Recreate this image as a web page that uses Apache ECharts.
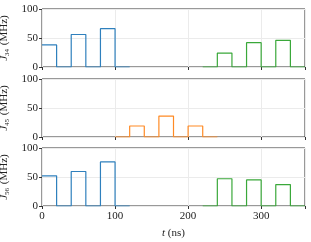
<!DOCTYPE html>
<html><head><meta charset="utf-8">
<script src="https://cdn.jsdelivr.net/npm/echarts@6/dist/echarts.min.js"></script>
<style>html,body{margin:0;padding:0;background:#fff}#c{width:311px;height:242px}</style>
</head><body><div id="c"></div>
<script>
// segment start times (ns), each segment 20 ns wide
const blueTimes = [0, 20, 40, 60, 80, 100, 120];
const greenTimes = [220, 240, 260, 280, 300, 320, 340, 360];
const orangeTimes = [100, 120, 140, 160, 180, 200, 220, 240];

const J34_blue = [38, 0, 56, 0, 66, 0];
const J34_green = [0, 24, 0, 42, 0, 46, 0];
const J45_orange = [0, 19, 0, 36, 0, 19, 0];
const J56_blue = [52, 0, 59.5, 0, 76, 0];
const J56_green = [0, 47, 0, 45, 0, 37, 0];

const xTicks = [0, 100, 200, 300];
const yTicks = [0, 50, 100];
const yNames = ['34', '45', '56'];

function stepData(times, vals) {
  const d = vals.map((v, i) => [times[i], v]);
  d.push([times[times.length - 1], vals[vals.length - 1]]);
  return d;
}

const FONT = 'Liberation Serif';
const tops = [9, 79, 148];
const grids = tops.map(t => ({left: 42, width: 263, top: t, height: 58, show: true, borderColor: '#333', borderWidth: 1, containLabel: false, outerBoundsMode: 'none'}));

const xAxes = tops.map((t, i) => ({
  type: 'value', gridIndex: i, min: 0, max: 360, interval: 100,
  axisLine: {show: false},
  axisTick: {show: true, length: 3, lineStyle: {color: '#333'}},
  axisLabel: {show: i === 2, fontFamily: FONT, fontSize: 11, color: '#222', margin: 5,
    formatter: v => xTicks.includes(v) ? String(v) : ''},
  splitLine: {show: true, lineStyle: {color: '#ebebeb', width: 1}},
  name: i === 2 ? '{i|t} (ns)' : '',
  nameLocation: 'middle', nameGap: 22,
  nameTextStyle: {fontFamily: FONT, fontSize: 11, color: '#222', rich: {i: {fontStyle: 'italic', fontFamily: FONT, fontSize: 11}}}
}));

const yAxes = tops.map((t, i) => ({
  type: 'value', gridIndex: i, min: 0, max: 100, interval: 50,
  axisLine: {show: false},
  axisTick: {show: true, length: 3, lineStyle: {color: '#333'}},
  axisLabel: {fontFamily: FONT, fontSize: 11, color: '#222', margin: 4,
    formatter: v => yTicks.includes(v) ? String(v) : ''},
  splitLine: {show: true, lineStyle: {color: '#ebebeb', width: 1}},
  name: '{i|J}{s|' + yNames[i] + '} (MHz)',
  nameLocation: 'middle', nameGap: 26, nameRotate: 90,
  nameTextStyle: {fontFamily: FONT, fontSize: 11, color: '#222',
    rich: {i: {fontStyle: 'italic', fontFamily: FONT, fontSize: 11},
           s: {fontFamily: FONT, fontSize: 7, padding: [5, 1, 0, 0]}}}
}));

function ser(idx, times, vals, color) {
  return {type: 'line', xAxisIndex: idx, yAxisIndex: idx, step: 'end', symbol: 'none',
    data: stepData(times, vals), lineStyle: {color: color, width: 1.2}, animation: false, z: 3};
}

const chart = echarts.init(document.getElementById('c'), null, {renderer: 'canvas'});
chart.setOption({
  animation: false,
  grid: grids, xAxis: xAxes, yAxis: yAxes,
  series: [
    ser(0, blueTimes, J34_blue, '#2f80bd'),
    ser(0, greenTimes, J34_green, '#3aa83a'),
    ser(1, orangeTimes, J45_orange, '#ff8a24'),
    ser(2, blueTimes, J56_blue, '#2f80bd'),
    ser(2, greenTimes, J56_green, '#3aa83a')
  ]
});
</script></body></html>
